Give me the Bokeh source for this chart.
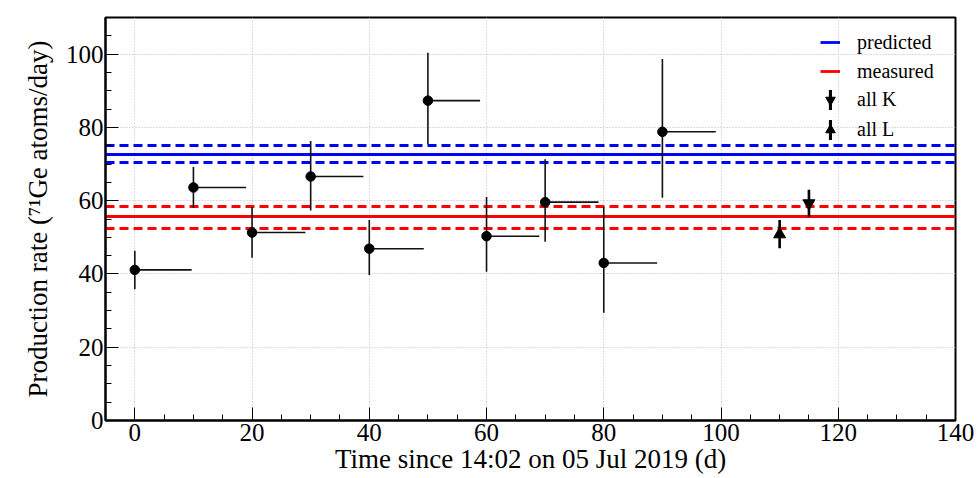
from bokeh.plotting import figure
from bokeh.models import Range1d, SingleIntervalTicker, Legend, LegendItem, ColumnDataSource
from bokeh.embed import file_html
from bokeh.resources import INLINE

# ---- data ----
t_start = [0, 10, 20, 30, 40, 50, 60, 70, 80, 90]
t_end = [9.7, 19.0, 29.1, 39.0, 49.3, 58.9, 69.0, 79.1, 89.1, 99.1]
rate = [41.1, 63.6, 51.3, 66.6, 46.9, 87.3, 50.3, 59.6, 43.0, 78.8]
rate_lo = [35.8, 58.1, 44.4, 57.3, 39.7, 75.4, 40.6, 48.8, 29.4, 60.8]
rate_hi = [46.3, 69.2, 58.3, 76.3, 54.7, 100.4, 61.0, 71.3, 58.3, 98.7]

predicted = 72.5
predicted_lo = 70.5
predicted_hi = 75.1
measured = 55.6
measured_lo = 52.4
measured_hi = 58.5

allK_t = [115]
allK_rate = [59.3]
allK_lo = [55.6]
allK_hi = [63.0]
allL_t = [110]
allL_rate = [50.8]
allL_lo = [47.0]
allL_hi = [54.7]

x_tick_step = 20
y_tick_step = 20

FONT = "Liberation Serif"

p = figure(width=979, height=478, x_range=Range1d(-5, 140), y_range=Range1d(0, 110),
           output_backend="svg", toolbar_location=None,
           min_border_left=105, min_border_right=24, min_border_top=17, min_border_bottom=58)

p.outline_line_color = "black"
p.outline_line_width = 2
p.background_fill_color = "white"
p.border_fill_color = "white"

for ax, tk in ((p.xaxis[0], x_tick_step), (p.yaxis[0], y_tick_step)):
    ax.ticker = SingleIntervalTicker(interval=tk, num_minor_ticks=4)
    ax.major_tick_in = 13
    ax.major_tick_out = 0
    ax.minor_tick_in = 6
    ax.minor_tick_out = 0
    ax.major_tick_line_color = "black"
    ax.minor_tick_line_color = "black"
    ax.axis_line_color = "black"
    ax.axis_line_width = 2
    ax.major_label_text_font = FONT
    ax.major_label_text_font_size = "25px"
    ax.major_label_text_color = "black"
    ax.axis_label_text_font = FONT
    ax.axis_label_text_font_size = "27px"
    ax.axis_label_text_font_style = "normal"
    ax.axis_label_text_color = "black"

p.xaxis.major_label_standoff = 3
p.xaxis.axis_label_standoff = 0
p.yaxis.major_label_standoff = 2
p.yaxis.axis_label_standoff = 10

p.xaxis.axis_label = "Time since 14:02 on 05 Jul 2019 (d)"
p.yaxis.axis_label = "Production rate (\u2077\u00b9Ge atoms/day)"

for g in (p.xgrid[0], p.ygrid[0]):
    g.grid_line_color = "#b8b8b8"
    g.grid_line_dash = "1 2"
    g.grid_line_width = 1

# reference bands
r_pred = p.hspan(y=[predicted], line_color="blue", line_width=2.8)
p.hspan(y=[predicted_lo, predicted_hi], line_color="blue", line_width=2.8, line_dash="9 5")
r_meas = p.hspan(y=[measured], line_color="red", line_width=2.8)
p.hspan(y=[measured_lo, measured_hi], line_color="red", line_width=2.8, line_dash="9 5")

# data points
src = ColumnDataSource(dict(t=t_start, te=t_end, y=rate, lo=rate_lo, hi=rate_hi))
p.segment(x0="t", y0="lo", x1="t", y1="hi", source=src, line_color="#111111", line_width=1.6)
p.segment(x0="t", y0="y", x1="te", y1="y", source=src, line_color="#111111", line_width=1.6)
p.scatter(x="t", y="y", source=src, marker="circle", size=9.5, fill_color="black", line_color="black")

# all K / all L : error bars as thin vertical bars, markers as triangles
rKb = p.vbar(x=allK_t, bottom=allK_lo, top=allK_hi, width=0.45, fill_color="black", line_width=0)
rK = p.scatter(x=allK_t, y=allK_rate, marker="inverted_triangle", size=12,
               fill_color="black", line_color="black")
rLb = p.vbar(x=allL_t, bottom=allL_lo, top=allL_hi, width=0.45, fill_color="black", line_width=0)
rL = p.scatter(x=allL_t, y=allL_rate, marker="triangle", size=12,
               fill_color="black", line_color="black")


def style_legend(lg, gw, gh, standoff, spacing):
    lg.label_text_font = FONT
    lg.label_text_font_size = "20px"
    lg.label_text_color = "black"
    lg.glyph_width = gw
    lg.glyph_height = gh
    lg.label_height = gh
    lg.spacing = spacing
    lg.label_standoff = standoff
    lg.padding = 0
    lg.margin = 0
    lg.border_line_alpha = 0
    lg.background_fill_alpha = 0
    lg.click_policy = "none"


# line entries
legA = Legend(items=[
    LegendItem(label="predicted", renderers=[r_pred]),
    LegendItem(label="measured", renderers=[r_meas]),
], location=(715, 337))
style_legend(legA, 20, 24, 17, 5)
p.add_layout(legA)

# marker entries: vertical bars with labels
legB = Legend(items=[
    LegendItem(label="all K", renderers=[rKb]),
    LegendItem(label="all L", renderers=[rLb]),
], location=(723, 278))
style_legend(legB, 4, 25, 25, 5)
p.add_layout(legB)

# marker entries: triangles drawn over the bars
legC = Legend(items=[
    LegendItem(label=" ", renderers=[rK]),
    LegendItem(label=" ", renderers=[rL]),
], location=(713, 278))
style_legend(legC, 24, 25, 5, 5)
p.add_layout(legC)

open("out.html", "w").write(file_html(p, INLINE))
